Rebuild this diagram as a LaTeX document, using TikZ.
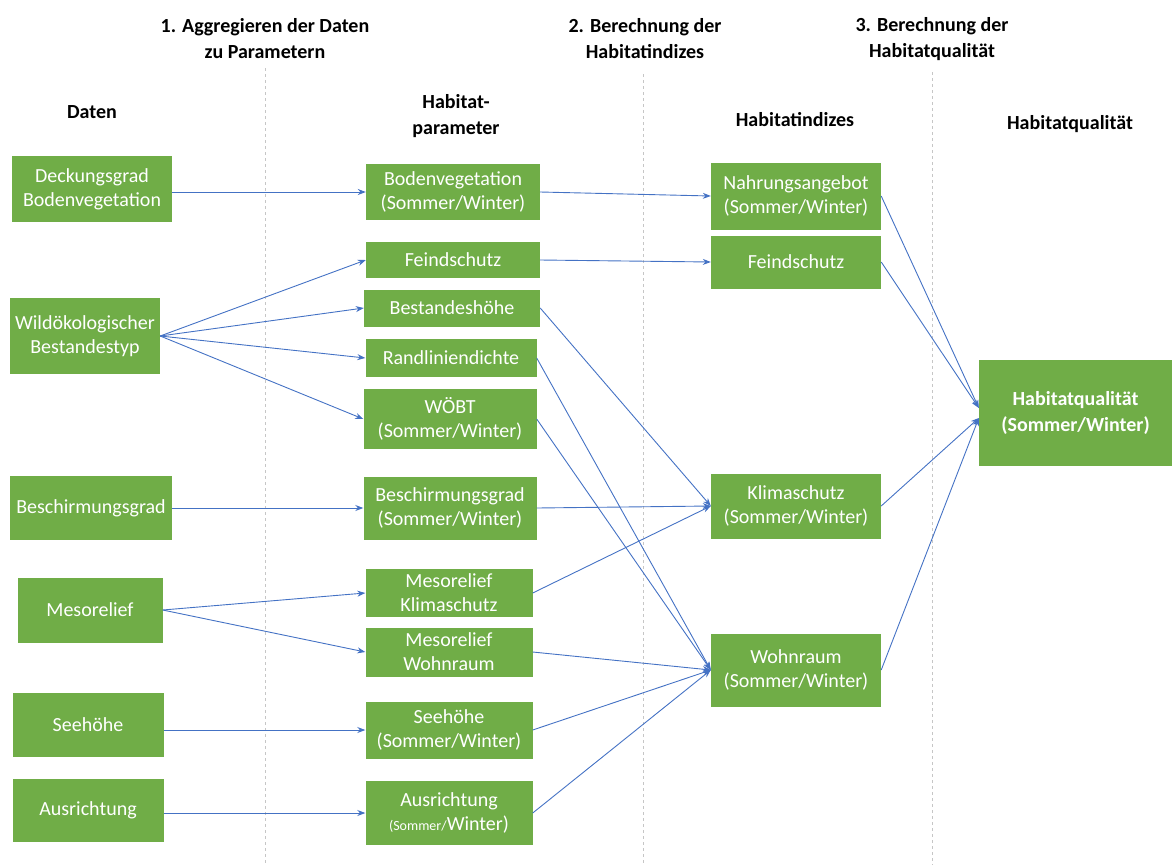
\documentclass[tikz,border=0pt]{standalone}
\usepackage{fontspec}
\setmainfont{Carlito}
\usetikzlibrary{arrows.meta}
\definecolor{boxgreen}{RGB}{112,173,71}
\definecolor{linkblue}{RGB}{68,114,196}
\tikzset{
  greenbox/.style={fill=boxgreen, text=white, align=center, inner sep=0pt,
    font=\fontsize{20}{24}\selectfont},
  link/.style={draw=linkblue, line width=0.9pt, -{Stealth[length=8pt,width=6pt]}},
  divider/.style={gray!45, line width=0.9pt, dash pattern=on 3pt off 3pt},
  heading/.style={font=\bfseries\fontsize{20}{26}\selectfont, align=center}
}
\begin{document}
\begin{tikzpicture}[x=1pt, y=-1pt]
    \useasboundingbox (0,0) rectangle (1172,865);

    % Step headings and separators
    \node[heading] (s1) at (265,39) {1. Aggregieren der Daten\\zu Parametern};
    \node[heading] (s2) at (645,39) {2. Berechnung der\\Habitatindizes};
    \node[heading] (s3) at (932,39) {3. Berechnung der\\Habitatqualität};
    \draw[divider] (265,68) -- (265,865);
    \draw[divider] (643,74) -- (643,865);
    \draw[divider] (932,72) -- (932,865);

    % Column headings
    \node[heading] (hd) at (92,112) {Daten};
    \node[heading] (hp) at (456,116) {Habitat-\\parameter};
    \node[heading] (hi) at (795,120) {Habitatindizes};
    \node[heading] (hq) at (1070,124) {Habitatqualität};

    % Daten
    \node[greenbox, minimum width=160, minimum height=66] (d1) at (92,189) {Deckungsgrad\\Bodenvegetation};
    \node[greenbox, minimum width=150, minimum height=76] (d2) at (85,336) {Wildökologischer\\Bestandestyp};
    \node[greenbox, minimum width=162, minimum height=64] (d3) at (91,508) {Beschirmungsgrad};
    \node[greenbox, minimum width=145, minimum height=65] (d4) at (90,610) {Mesorelief};
    \node[greenbox, minimum width=151, minimum height=64] (d5) at (88,725) {Seehöhe};
    \node[greenbox, minimum width=151, minimum height=63] (d6) at (88,810) {Ausrichtung};

    % Habitatparameter
    \node[greenbox, minimum width=174, minimum height=56] (p1) at (453,192) {Bodenvegetation\\(Sommer/Winter)};
    \node[greenbox, minimum width=174, minimum height=36] (p2) at (453,260) {Feindschutz};
    \node[greenbox, minimum width=176, minimum height=37] (p3) at (452,308) {Bestandeshöhe};
    \node[greenbox, minimum width=171, minimum height=38] (p4) at (451,358) {Randliniendichte};
    \node[greenbox, minimum width=173, minimum height=60] (p5) at (450,419) {WÖBT\\(Sommer/Winter)};
    \node[greenbox, minimum width=173, minimum height=63] (p6) at (450,508) {Beschirmungsgrad\\(Sommer/Winter)};
    \node[greenbox, minimum width=167, minimum height=48] (p7) at (449,593) {Mesorelief\\Klimaschutz};
    \node[greenbox, minimum width=167, minimum height=49] (p8) at (449,652) {Mesorelief\\Wohnraum};
    \node[greenbox, minimum width=167, minimum height=57] (p9) at (449,730) {Seehöhe\\(Sommer/Winter)};
    \node[greenbox, minimum width=167, minimum height=64] (p10) at (449,813) {Ausrichtung\\{\fontsize{14}{24}\selectfont(Sommer/}Winter)};

    % Habitatindizes
    \node[greenbox, minimum width=170, minimum height=67] (i1) at (796,196) {Nahrungsangebot\\(Sommer/Winter)};
    \node[greenbox, minimum width=170, minimum height=53] (i2) at (796,262) {Feindschutz};
    \node[greenbox, minimum width=170, minimum height=65] (i3) at (796,506) {Klimaschutz\\(Sommer/Winter)};
    \node[greenbox, minimum width=170, minimum height=73] (i4) at (796,670) {Wohnraum\\(Sommer/Winter)};

    % Habitatqualitaet
    \node[greenbox, minimum width=193, minimum height=106, font=\bfseries\fontsize{20}{26}\selectfont] (q) at (1075.5,413) {Habitatqualität\\(Sommer/Winter)};

    % Daten -> Parameter
    \draw[link] (d1.east |- p1.west) -- (p1.west);
    \foreach \p in {p2,p3,p4,p5} {
        \draw[link] (d2.east) -- (\p.west);
    }
    \draw[link] (d3.east) -- (p6.west);
    \draw[link] (d4.east) -- (p7.west);
    \draw[link] (d4.east) -- (p8.west);
    \draw[link] (d5.east |- p9.west) -- (p9.west);
    \draw[link] (d6.east |- p10.west) -- (p10.west);

    % Parameter -> Indizes
    \draw[link] (p1.east) -- (i1.west);
    \draw[link] (p2.east) -- (i2.west);
    \foreach \p in {p3,p6,p7} {
        \draw[link] (\p.east) -- (i3.west);
    }
    \foreach \p in {p4,p5,p8,p9,p10} {
        \draw[link] (\p.east) -- (i4.west);
    }

    % Indizes -> Habitatqualitaet
    \draw[link] (i1.east) -- ([yshift=5pt]q.west);
    \draw[link] (i2.east) -- ([yshift=5pt]q.west);
    \draw[link] (i3.east) -- ([yshift=-5pt]q.west);
    \draw[link] (i4.east) -- ([yshift=-5pt]q.west);
\end{tikzpicture}
\end{document}
